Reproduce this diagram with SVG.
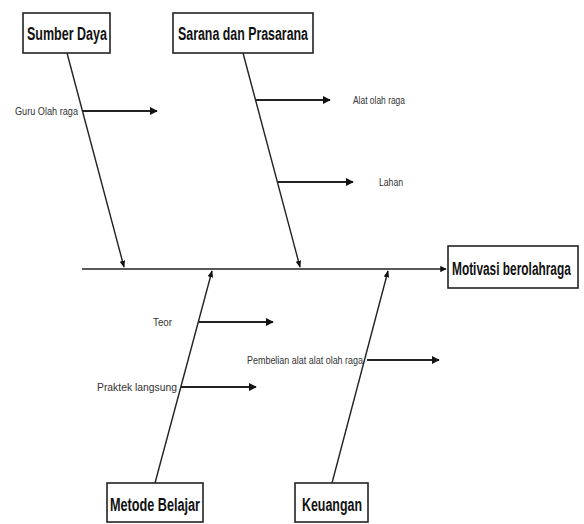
<svg xmlns="http://www.w3.org/2000/svg" width="584" height="524" viewBox="0 0 584 524">
<style>
.box{fill:#fff;stroke:#222;stroke-width:1.6}
.lbl{font-family:"Liberation Sans",Arial,sans-serif;font-weight:bold;font-size:18px;fill:#111}
.sm{font-family:"Liberation Sans",Arial,sans-serif;font-size:10px;fill:#333}
.ln{stroke:#222;stroke-width:1.6;fill:none}
.br{stroke:#222;stroke-width:2;fill:none;marker-end:url(#ah)}
.dg{stroke:#222;stroke-width:1.4;fill:none;marker-end:url(#ah2)}
</style>
<defs>
<marker id="ah" viewBox="0 0 10 10" refX="9" refY="5" markerWidth="4" markerHeight="4" orient="auto" markerUnits="strokeWidth"><path d="M0,0L10,5L0,10z" fill="#111"/></marker>
<marker id="ah2" viewBox="0 0 10 10" refX="9" refY="5" markerWidth="5" markerHeight="5" orient="auto" markerUnits="strokeWidth"><path d="M0,1L10,5L0,9z" fill="#111"/></marker>
</defs>
<rect width="584" height="524" fill="#fff"/>
<g id="connectors">
<line class="ln" x1="82" y1="269" x2="446" y2="269" marker-end="url(#ah)"/>
<line class="dg" x1="67" y1="53" x2="124" y2="267"/>
<line class="dg" x1="243" y1="53" x2="300" y2="267"/>
<line class="dg" x1="155" y1="483" x2="212" y2="271"/>
<line class="dg" x1="332" y1="483" x2="388" y2="271"/>
<line class="br" x1="83" y1="111" x2="157" y2="111"/>
<line class="br" x1="256" y1="100" x2="330" y2="100"/>
<line class="br" x1="278" y1="182" x2="353" y2="182"/>
<line class="br" x1="199" y1="322" x2="273" y2="322"/>
<line class="br" x1="181" y1="387" x2="256" y2="387"/>
<line class="br" x1="367" y1="360" x2="439" y2="360"/>
</g>
<g id="sumber-daya">
<rect class="box" x="23" y="13" width="87" height="40"/>
<text class="lbl" x="27" y="40" textLength="80" lengthAdjust="spacingAndGlyphs">Sumber Daya</text>
</g>
<g id="sarana">
<rect class="box" x="173" y="13" width="140" height="40"/>
<text class="lbl" x="178" y="40" textLength="130" lengthAdjust="spacingAndGlyphs">Sarana dan Prasarana</text>
</g>
<g id="motivasi">
<rect class="box" x="448" y="246" width="130" height="42"/>
<text class="lbl" transform="translate(452,275) scale(0.66,1)" x="0" y="0">Motivasi berolahraga</text>
</g>
<g id="metode">
<rect class="box" x="107" y="483" width="96" height="39"/>
<text class="lbl" x="110" y="511" textLength="90" lengthAdjust="spacingAndGlyphs">Metode Belajar</text>
</g>
<g id="keuangan">
<rect class="box" x="295" y="483" width="73" height="39"/>
<text class="lbl" x="302" y="511" textLength="60" lengthAdjust="spacingAndGlyphs">Keuangan</text>
</g>
<g id="guru"><text class="sm" x="15" y="115" textLength="63" lengthAdjust="spacingAndGlyphs">Guru Olah raga</text></g>
<g id="alat"><text class="sm" x="353" y="104" textLength="52" lengthAdjust="spacingAndGlyphs">Alat olah raga</text></g>
<g id="lahan"><text class="sm" x="379" y="186" textLength="24" lengthAdjust="spacingAndGlyphs">Lahan</text></g>
<g id="teori"><text class="sm" x="153" y="326" textLength="19" lengthAdjust="spacingAndGlyphs">Teor</text></g>
<g id="praktek"><text class="sm" x="97" y="391" textLength="80" lengthAdjust="spacingAndGlyphs">Praktek langsung</text></g>
<g id="pembelian"><text class="sm" x="247" y="364" textLength="116" lengthAdjust="spacingAndGlyphs">Pembelian alat alat olah raga</text></g>
</svg>
